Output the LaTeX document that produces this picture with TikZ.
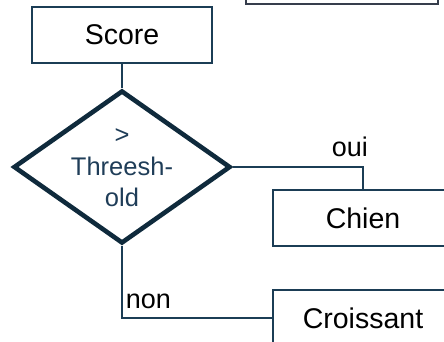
\documentclass[tikz,border=0pt]{standalone}
\usepackage{fontspec}
\setmainfont{Liberation Sans}
\usetikzlibrary{shapes.geometric}
\definecolor{boxline}{HTML}{1B3D55}
\definecolor{diamline}{HTML}{0F2A3C}
\definecolor{diamtext}{HTML}{1F3D58}
\definecolor{prevline}{HTML}{363D4C}
\tikzset{
stepbox/.style={
  rectangle,
  draw=boxline,
  line width=1.7pt,
  minimum width=180pt,
  minimum height=56pt,
  inner sep=0pt,
  font=\fontsize{28.5}{32}\selectfont
},
decision/.style={
  diamond,
  draw=diamline,
  line width=4.6pt,
  minimum width=217pt,
  minimum height=153pt,
  inner sep=0pt
},
dectext/.style={
  text=diamtext,
  align=center,
  font=\fontsize{25.5}{31.5}\selectfont
},
link/.style={draw=boxline, line width=1.7pt},
answer/.style={font=\fontsize{27}{30}\selectfont, inner sep=3pt, yshift=6pt}
}

\begin{document}
\begin{tikzpicture}[x=1pt,y=-1pt]
\useasboundingbox (0,0) rectangle (444,342);
% box left over from above
\node[stepbox, draw=prevline, minimum width=192pt, minimum height=40pt] (prev) at (342,-16) {};
\node[stepbox] (score) at (122,35) {Score};
\node[decision] (dec) at (122,167) {};
\node[dectext] (declabel) at ([yshift=-1pt]dec.center) {>\\Threesh-\\old};
\node[stepbox] (chien) at (363,218) {Chien};
\node[stepbox] (crois) at (363,318) {Croissant};
% the branches
\draw[link] (score.south) -- (dec.north);
\draw[link] (dec.east) -| node[answer, above, pos=0.45] {oui} (chien.north);
\draw[link] (dec.south) |- node[answer, above right, pos=0.5, yshift=-1pt] {non} (crois.west);
\end{tikzpicture}
\end{document}
